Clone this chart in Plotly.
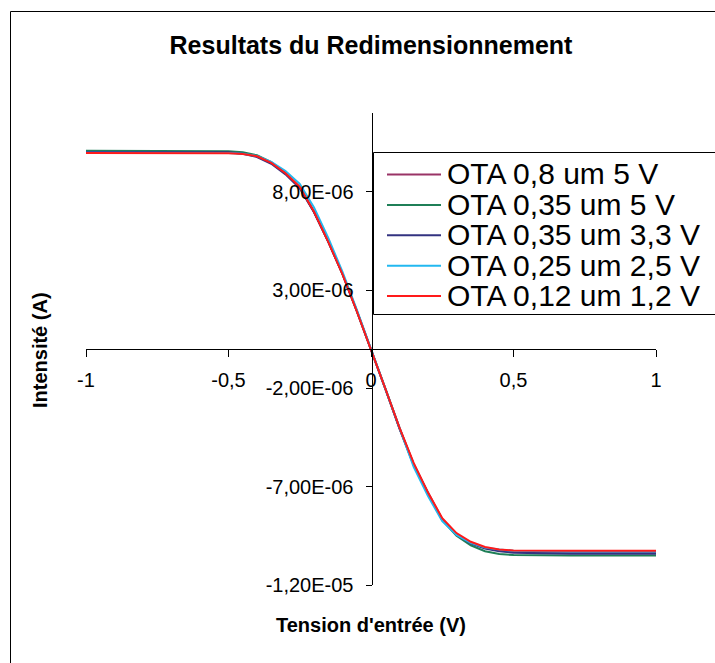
import plotly.graph_objects as go

# Input voltage sweep (V)
x_volts = [-1.0, -0.9, -0.8, -0.7, -0.6, -0.5, -0.45, -0.4, -0.35, -0.3, -0.25,
           -0.2, -0.15, -0.1, -0.05, 0.0, 0.05, 0.1, 0.15, 0.2, 0.25, 0.3, 0.35,
           0.4, 0.45, 0.5, 0.6, 0.7, 0.8, 0.9, 1.0]

# Output current of each OTA (uA)
ota_08_5v = [10.00, 10.00, 10.00, 10.00, 10.00, 9.99, 9.94, 9.80, 9.47, 8.94, 8.22,
             6.98, 5.46, 3.81, 1.94, 0.0, -2.00, -4.02, -5.85, -7.30, -8.64, -9.42,
             -9.85, -10.12, -10.25, -10.32, -10.35, -10.36, -10.36, -10.36, -10.36]
ota_035_5v = [10.08, 10.08, 10.08, 10.08, 10.08, 10.06, 10.00, 9.85, 9.50, 8.95, 8.22,
              6.98, 5.47, 3.82, 1.94, 0.0, -2.00, -4.02, -5.88, -7.35, -8.70, -9.50,
              -9.98, -10.28, -10.42, -10.48, -10.50, -10.50, -10.50, -10.50, -10.50]
ota_035_33v = [10.02, 10.02, 10.02, 10.02, 10.02, 10.00, 9.93, 9.76, 9.42, 8.88, 8.17,
               6.95, 5.45, 3.82, 1.95, 0.0, -2.02, -4.05, -5.92, -7.38, -8.68, -9.44,
               -9.88, -10.15, -10.28, -10.36, -10.40, -10.41, -10.41, -10.41, -10.41]
ota_025_25v = [9.98, 9.98, 9.98, 9.98, 9.98, 9.97, 9.93, 9.82, 9.52, 9.05, 8.40,
               7.20, 5.65, 3.92, 2.00, 0.0, -2.05, -4.10, -6.00, -7.48, -8.75, -9.45,
               -9.85, -10.10, -10.20, -10.26, -10.29, -10.30, -10.30, -10.30, -10.30]
ota_012_12v = [9.96, 9.96, 9.96, 9.96, 9.96, 9.95, 9.92, 9.80, 9.46, 8.94, 8.24,
               6.98, 5.45, 3.80, 1.93, 0.0, -2.00, -4.00, -5.80, -7.30, -8.60, -9.36,
               -9.80, -10.07, -10.19, -10.24, -10.26, -10.26, -10.26, -10.26, -10.26]

series_names = ["OTA 0,8 um 5 V", "OTA 0,35 um 5 V", "OTA 0,35 um 3,3 V",
                "OTA 0,25 um 2,5 V", "OTA 0,12 um 1,2 V"]
series_values = [ota_08_5v, ota_035_5v, ota_035_33v, ota_025_25v, ota_012_12v]
series_colors = ["#993366", "#1F7F57", "#333380", "#22B8F0", "#FF1A1A"]

x_tickvals = [-1, -0.5, 0, 0.5, 1]
x_ticktext = ["-1", "-0,5", "0", "0,5", "1"]
y_tickvals = [-1.2e-5, -7e-6, -2e-6, 3e-6, 8e-6]
y_ticktext = ["-1,20E-05", "-7,00E-06", "-2,00E-06", "3,00E-06", "8,00E-06"]

W, H = 715, 663
FONT = "Liberation Sans, Arial, sans-serif"

fig = go.Figure()
for name, vals, col in zip(series_names, series_values, series_colors):
    fig.add_trace(go.Scatter(
        x=x_volts, y=[v * 1e-6 for v in vals], mode="lines", name=name,
        line=dict(color=col, width=2), showlegend=False,
    ))

# pixel helpers for layout placement (margins are zero, so paper == page)
px_x = lambda p: p / W
px_y = lambda p: 1 - p / H

shapes = [
    # chart frame
    dict(type="rect", xref="paper", yref="paper",
         x0=px_x(10.5), y0=-0.05, x1=1.05, y1=px_y(11.5),
         line=dict(color="black", width=1), fillcolor="rgba(0,0,0,0)",
         layer="above"),
    # legend box
    dict(type="rect", xref="paper", yref="paper",
         x0=px_x(373.5), y0=px_y(314.5), x1=1.05, y1=px_y(152.5),
         line=dict(color="black", width=1), fillcolor="white", layer="above"),
]
annotations = [
    dict(text="<b>Tension d'entrée (V)</b>", x=px_x(371), y=px_y(625),
         xref="paper", yref="paper", showarrow=False,
         xanchor="center", yanchor="middle",
         font=dict(family=FONT, size=20, color="black")),
    dict(text="<b>Intensité (A)</b>", x=px_x(40), y=px_y(350),
         xref="paper", yref="paper", showarrow=False, textangle=-90,
         xanchor="center", yanchor="middle",
         font=dict(family=FONT, size=20, color="black")),
]

# legend entries: sample line + label per series
row0, row_step = 174.5, 30.4
for i, (name, col) in enumerate(zip(series_names, series_colors)):
    yr = row0 + i * row_step
    shapes.append(dict(type="line", xref="paper", yref="paper",
                       x0=px_x(387), x1=px_x(441), y0=px_y(yr), y1=px_y(yr),
                       line=dict(color=col, width=2), layer="above"))
    annotations.append(dict(text=name, x=px_x(445), y=px_y(yr - 0.5),
                            xref="paper", yref="paper", showarrow=False,
                            xanchor="left", yanchor="middle",
                            font=dict(family=FONT, size=30, color="black")))

fig.update_layout(
    width=W, height=H,
    margin=dict(l=0, r=0, t=0, b=0, autoexpand=False),
    paper_bgcolor="white", plot_bgcolor="white",
    font=dict(family=FONT, color="black", size=20),
    showlegend=False,
    title=dict(
        text="<b>Resultats du Redimensionnement</b>",
        x=px_x(371), xanchor="center", y=px_y(45), yanchor="middle",
        xref="paper", yref="paper",
        font=dict(family=FONT, size=25, color="black"),
    ),
    xaxis=dict(
        range=[-1, 1], domain=[px_x(86), px_x(656)],
        anchor="free", position=px_y(349),
        showgrid=False, zeroline=False,
        showline=True, linecolor="black", linewidth=1,
        ticks="outside", ticklen=7, tickcolor="black", tickwidth=1,
        tickvals=x_tickvals, ticktext=x_ticktext,
        tickfont=dict(family=FONT, size=20, color="black"),
        ticklabelstandoff=6,
    ),
    yaxis=dict(
        range=[-1.2e-5, 1.2e-5], domain=[px_y(585), px_y(113)],
        anchor="free", position=px_x(371.5),
        showgrid=False, zeroline=False,
        showline=True, linecolor="black", linewidth=1,
        ticks="outside", ticklen=6, tickcolor="black", tickwidth=1,
        tickvals=y_tickvals, ticktext=y_ticktext,
        tickfont=dict(family=FONT, size=20, color="black"),
        ticklabelstandoff=8,
    ),
    annotations=annotations,
    shapes=shapes,
)

fig.write_html("out.html")
